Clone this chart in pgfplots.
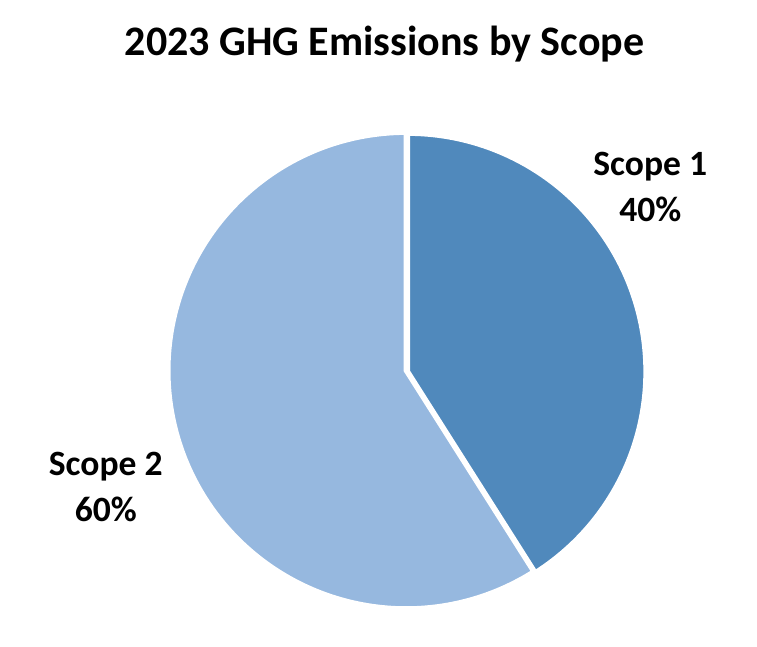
\documentclass[border=0pt]{standalone}
\usepackage{pgfplots}
\pgfplotsset{compat=1.18}
\usepackage{pgfplotstable}
\usepackage{fontspec}
\setmainfont{Carlito}
\definecolor{scopeone}{RGB}{80,137,188}
\definecolor{scopetwo}{RGB}{150,184,223}
% shares as drawn in the chart (labels round them to 40% / 60%)
\pgfplotstableread{
label value
Scope1 41
Scope2 59
}\piedata
\begin{document}
\pgfplotstablegetelem{0}{value}\of\piedata
\pgfmathsetmacro{\va}{\pgfplotsretval}
\pgfplotstablegetelem{1}{value}\of\piedata
\pgfmathsetmacro{\vb}{\pgfplotsretval}
\pgfmathsetmacro{\aEnd}{90-3.6*\va}
\pgfmathsetmacro{\bEnd}{\aEnd-3.6*\vb}
\begin{tikzpicture}
\begin{axis}[
  hide axis, scale only axis, clip=false,
  width=757pt, height=654pt,
  xmin=0, xmax=757, ymin=0, ymax=654,
]
\path (axis cs:0,0) rectangle (axis cs:757,654);
% Scope 2
\addplot[fill=scopetwo, draw=white, line width=5pt, line join=miter, domain=\bEnd:\aEnd, samples=200, variable=\t]
  ({402+241*cos(\t)},{279+241*sin(\t)}) -- (axis cs:402,279) -- cycle;
% Scope 1
\addplot[fill=scopeone, draw=white, line width=5pt, line join=miter, domain=\aEnd:90, samples=150, variable=\t]
  ({403.5+241*cos(\t)},{278+241*sin(\t)}) -- (axis cs:403.5,278) -- cycle;
\node[font=\fontsize{42.5}{48}\selectfont\bfseries] at (axis cs:380,609) {2023 GHG Emissions by Scope};
\node[font=\fontsize{36}{46}\selectfont\bfseries, align=center] at (axis cs:649,465) {Scope 1\\40\%};
\node[font=\fontsize{36}{46}\selectfont\bfseries, align=center] at (axis cs:98,161) {Scope 2\\60\%};
\end{axis}
\end{tikzpicture}
\end{document}
